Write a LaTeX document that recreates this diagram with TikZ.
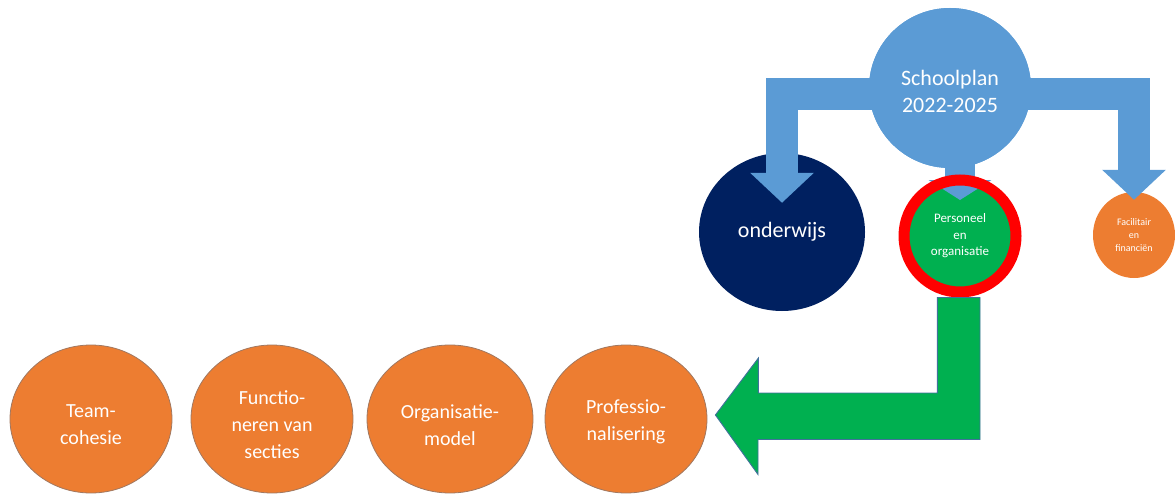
\documentclass[tikz,border=0pt]{standalone}
\usepackage{fontspec}
\setmainfont{Carlito}
\usetikzlibrary{shapes.geometric,arrows.meta,calc}
\definecolor{schoolblue}{HTML}{5B9BD5}
\definecolor{navyblue}{HTML}{002060}
\definecolor{okgreen}{HTML}{00B050}
\definecolor{ringred}{HTML}{FF0000}
\definecolor{offorange}{HTML}{ED7D31}
\definecolor{edgeblue}{HTML}{41719C}
\tikzset{
  bigcirc/.style={ellipse, inner sep=0pt, text=white, align=center},
  orangebub/.style={bigcirc, fill=offorange, draw=edgeblue!45!offorange, line width=0.8pt,
    minimum width=162pt, minimum height=148pt},
  bubtext/.style={text=white, align=center, inner sep=0pt, font=\fontsize{20}{27}\selectfont},
  barrow/.style={draw=schoolblue, line width=32pt, line join=miter,
    -{Triangle[width=62pt,length=30pt]}},
  marrow/.style={draw=schoolblue, line width=30pt,
    -{Triangle[width=62pt,length=20pt]}},
  garrow/.style={fill=okgreen, draw=edgeblue, line width=0.9pt, line join=miter}
}
\begin{document}
\begin{tikzpicture}[x=1pt,y=-1pt]
\useasboundingbox (0,0) rectangle (1175,495);
% lower-level circles
\node[bigcirc, fill=navyblue, minimum width=166pt, minimum height=158pt,
  font=\fontsize{22}{27}\selectfont] (ond) at (782,232) {onderwijs};
\node[bigcirc, fill=offorange, minimum width=82pt, minimum height=86pt,
  font=\fontsize{10}{13}\selectfont] (fac) at (1134,235) {Facilitair\\en\\financiën};
\node[bigcirc, fill=okgreen, minimum width=104pt, minimum height=104pt,
  font=\fontsize{13}{16.5}\selectfont] (pers) at (960,236) {Personeel\\en\\organisatie};
% school plan
\node[bigcirc, fill=schoolblue, minimum width=162pt, minimum height=160pt] (school) at (950,88) {};
% blue arrows
\draw[barrow] ([yshift=-6pt]school.center) -| ([yshift=-50pt]ond.north);
\draw[barrow] ([yshift=-6pt]school.center) -| ([yshift=-8pt]fac.north);
\draw[marrow] (school.center -| pers.center) -- ([yshift=36pt]pers.center);
\node[bigcirc, fill=schoolblue, minimum width=162pt, minimum height=160pt] (school2) at (school.center) {};
\node[bubtext, font=\fontsize{22}{27}\selectfont] (schooltxt) at ([yshift=-3pt]school2.center) {Schoolplan\\2022-2025};
% red ring
\node[circle, draw=ringred, line width=11pt, minimum size=112pt, inner sep=0pt] (ring) at (pers.center) {};
% bottom row
\node[orangebub] (team) at (91,419) {};
\node[orangebub] (func) at (272,419) {};
\node[orangebub, minimum width=166pt] (org) at (450,419) {};
\node[orangebub] (prof) at (626,419) {};
\node[bubtext] (teamtxt) at ([yshift=-6pt]team.center) {Team-\\cohesie};
\node[bubtext] (functxt) at ([yshift=-6pt]func.center) {Functio-\\neren van\\secties};
\node[bubtext] (orgtxt) at ([yshift=-6pt]org.center) {Organisatie-\\model};
\node[bubtext] (proftxt) at ([yshift=-3pt]prof.center) {Professio-\\nalisering};
% green arrow
\coordinate (gtip) at ([xshift=8pt,yshift=4pt]prof.east);
\draw[garrow] (gtip) -- ++(43,-57) -- ++(0,35) -- ++(179,0)
  |- ([xshift=20pt]ring.south) -- ++(0,142) -- ++(-222,0) -- ++(0,35) -- cycle;
\end{tikzpicture}
\end{document}
